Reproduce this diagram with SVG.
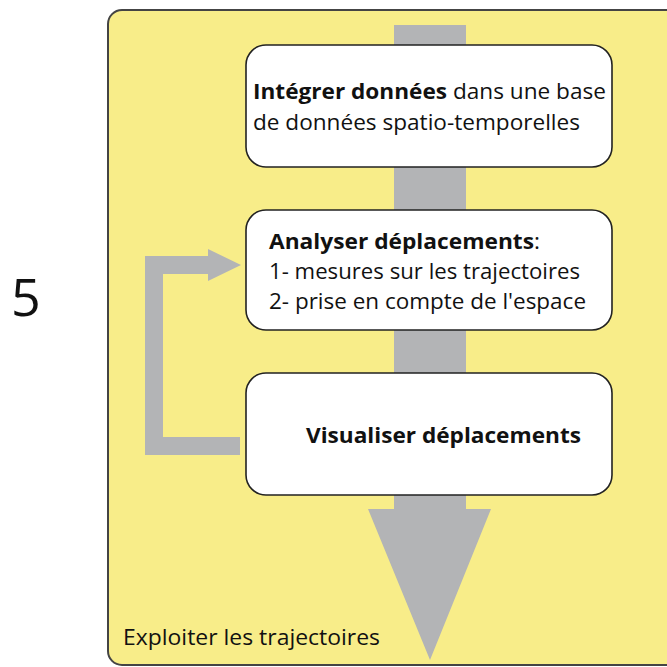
<svg xmlns="http://www.w3.org/2000/svg" width="667" height="667" viewBox="0 0 667 667">
<style>
.t{font-family:"Open Sans","Liberation Sans",sans-serif;font-size:21px;fill:#111}
.b{font-weight:bold}
.node{fill:#fff;stroke:#222;stroke-width:1.6}
.flow{fill:#b3b4b6}
.fb{fill:none;stroke:#b3b4b6;stroke-width:18}
</style>
<rect width="667" height="667" fill="#fff"/>
<text x="11" y="316" style="font-family:'Open Sans','Liberation Sans',sans-serif;font-size:52px;fill:#111">5</text>
<g id="container">
<rect x="108" y="10" width="580" height="655" rx="14" fill="#f8ed89" stroke="#444" stroke-width="2"/>
<text class="t" x="123" y="645" textLength="257" lengthAdjust="spacingAndGlyphs">Exploiter les trajectoires</text>
</g>
<g id="connectors">
<polygon class="flow" points="394,25 466,25 466,509 491,509 430,660 368,509 394,509"/>
<polyline class="fb" points="240,446 154,446 154,265 210,265"/>
<polygon class="flow" points="208,249 241,265 208,281"/>
</g>
<g id="node1">
<rect class="node" x="246" y="45" width="366" height="122" rx="20"/>
<text class="t" x="253" y="99" textLength="353" lengthAdjust="spacingAndGlyphs"><tspan class="b">Intégrer données</tspan> dans une base</text>
<text class="t" x="253" y="130" textLength="327" lengthAdjust="spacingAndGlyphs">de données spatio-temporelles</text>
</g>
<g id="node2">
<rect class="node" x="246" y="210" width="366" height="120" rx="20"/>
<text class="t" x="269" y="249" textLength="271" lengthAdjust="spacingAndGlyphs"><tspan class="b">Analyser déplacements</tspan>:</text>
<text class="t" x="269" y="279" textLength="311" lengthAdjust="spacingAndGlyphs">1- mesures sur les trajectoires</text>
<text class="t" x="269" y="309" textLength="317" lengthAdjust="spacingAndGlyphs">2- prise en compte de l'espace</text>
</g>
<g id="node3">
<rect class="node" x="246" y="373" width="366" height="122" rx="20"/>
<text class="t b" x="306" y="443" textLength="275" lengthAdjust="spacingAndGlyphs">Visualiser déplacements</text>
</g>
</svg>
